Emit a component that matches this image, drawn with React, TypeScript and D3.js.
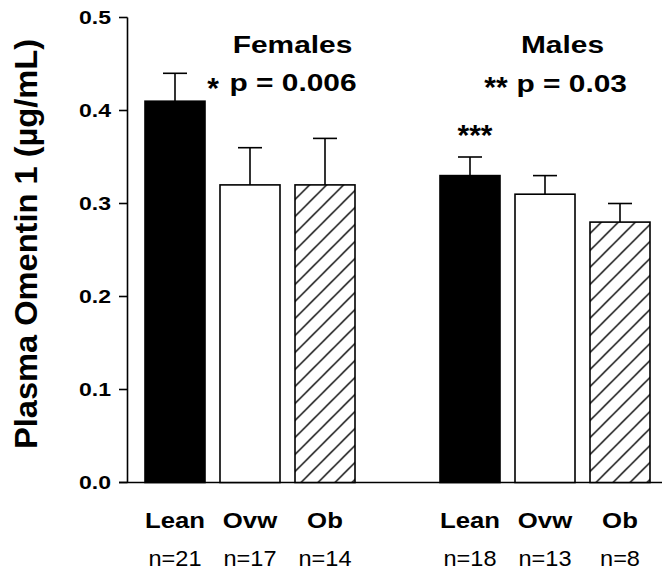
import React from 'react';
import * as d3 from 'd3';

const groups = ['Females', 'Males'];
const categories = ['Lean', 'Ovw', 'Ob'];
const femaleMeans = [0.41, 0.32, 0.32];
const femaleSem = [0.03, 0.04, 0.05];
const maleMeans = [0.33, 0.31, 0.28];
const maleSem = [0.02, 0.02, 0.02];
const femaleN = [21, 17, 14];
const maleN = [18, 13, 8];
const yTicks = [0, 0.1, 0.2, 0.3, 0.4, 0.5];

const FONT = '"Liberation Sans", Arial, Helvetica, sans-serif';

// stretched text, the source figure uses a wide face
function SText(props: { x: number; y: number; sx: number; size: number; bold?: boolean; anchor?: string; children: React.ReactNode }) {
	const { x, y, sx, size, bold, anchor, children } = props;
	return (
		<g transform={`translate(${x},${y}) scale(${sx},1)`}>
			<text x={0} y={0} fontFamily={FONT} fontSize={size} fontWeight={bold ? 'bold' : 'normal'}
				textAnchor={anchor || 'middle'} fill="#000">{children}</text>
		</g>
	);
}

export default function App() {
	const width = 667;
	const height = 572;

	const y = d3.scaleLinear().domain([0, 0.5]).range([482.5, 17.5]);

	const x0 = d3.scaleBand<string>()
		.domain(groups)
		.range([137.5, 657.5])
		.paddingInner(70 / 295)
		.paddingOuter(0);

	const x1 = d3.scaleBand<string>()
		.domain(categories)
		.range([0, x0.bandwidth()])
		.paddingInner(0.2)
		.paddingOuter(0.1);

	const data = groups.map((g, gi) => ({
		group: g,
		bars: categories.map((c, ci) => ({
			cat: c,
			mean: gi === 0 ? femaleMeans[ci] : maleMeans[ci],
			sem: gi === 0 ? femaleSem[ci] : maleSem[ci],
			n: gi === 0 ? femaleN[ci] : maleN[ci]
		}))
	}));

	const fillFor = (c: string) => (c === 'Lean' ? '#000' : c === 'Ovw' ? '#fff' : 'url(#hatch)');
	const axisX = 127.5;
	const bw = x1.bandwidth();

	return (
		<svg width={width} height={height} style={{ position: 'absolute', left: 0, top: 0, background: '#fff' }}>
			<defs>
				<pattern id="hatch" patternUnits="userSpaceOnUse" width={17} height={17}>
					<rect width={17} height={17} fill="#fff" />
					<path d="M0,17 L17,0 M-4,4 L4,-4 M13,21 L21,13" stroke="#000" strokeWidth={1.4} />
				</pattern>
			</defs>

			{/* y axis */}
			<line x1={axisX} x2={axisX} y1={y(0.5)} y2={y(0)} stroke="#000" strokeWidth={1.6} />
			<line x1={119} x2={662} y1={y(0)} y2={y(0)} stroke="#000" strokeWidth={1.6} />
			{yTicks.map(t => (
				<g key={t}>
					<line x1={119} x2={axisX} y1={y(t)} y2={y(t)} stroke="#000" strokeWidth={1.6} />
					<SText x={111} y={y(t) + 6.5} sx={1.28} size={18} bold anchor="end">{d3.format('.1f')(t)}</SText>
				</g>
			))}

			<g transform="translate(36.5,244) rotate(-90)">
				<text x={0} y={0} fontFamily={FONT} fontSize={32} fontWeight="bold" textAnchor="middle"
					textLength={410} lengthAdjust="spacingAndGlyphs">Plasma Omentin 1 (µg/mL)</text>
			</g>

			{data.map(g => (
				<g key={g.group} transform={`translate(${x0(g.group)},0)`}>
					{g.bars.map(b => {
						const bx = x1(b.cat)!;
						const cx = bx + bw / 2;
						return (
							<g key={b.cat}>
								<line x1={cx} x2={cx} y1={y(b.mean)} y2={y(b.mean + b.sem)} stroke="#000" strokeWidth={1.6} />
								<line x1={cx - 12} x2={cx + 12} y1={y(b.mean + b.sem)} y2={y(b.mean + b.sem)} stroke="#000" strokeWidth={1.6} />
								<rect x={bx} y={y(b.mean)} width={bw} height={y(0) - y(b.mean)}
									fill={fillFor(b.cat)} stroke="#000" strokeWidth={1.6} />
								<SText x={cx} y={527.5} sx={1.12} size={23} bold>{b.cat}</SText>
								<SText x={cx} y={566} sx={1.07} size={22}>{`n=${b.n}`}</SText>
							</g>
						);
					})}
				</g>
			))}

			{/* group titles and p values */}
			<SText x={292.5} y={53.3} sx={1.22} size={24.5} bold>Females</SText>
			<SText x={213} y={98} sx={1} size={30} bold>*</SText>
			<SText x={293} y={90.5} sx={1.22} size={24.5} bold>p = 0.006</SText>
			<SText x={562.5} y={53.3} sx={1.22} size={24.5} bold>Males</SText>
			<SText x={496} y={97} sx={1} size={30} bold>**</SText>
			<SText x={571.7} y={91.5} sx={1.22} size={24.5} bold>p = 0.03</SText>
			<SText x={475} y={145} sx={1} size={30} bold>***</SText>
		</svg>
	);
}
